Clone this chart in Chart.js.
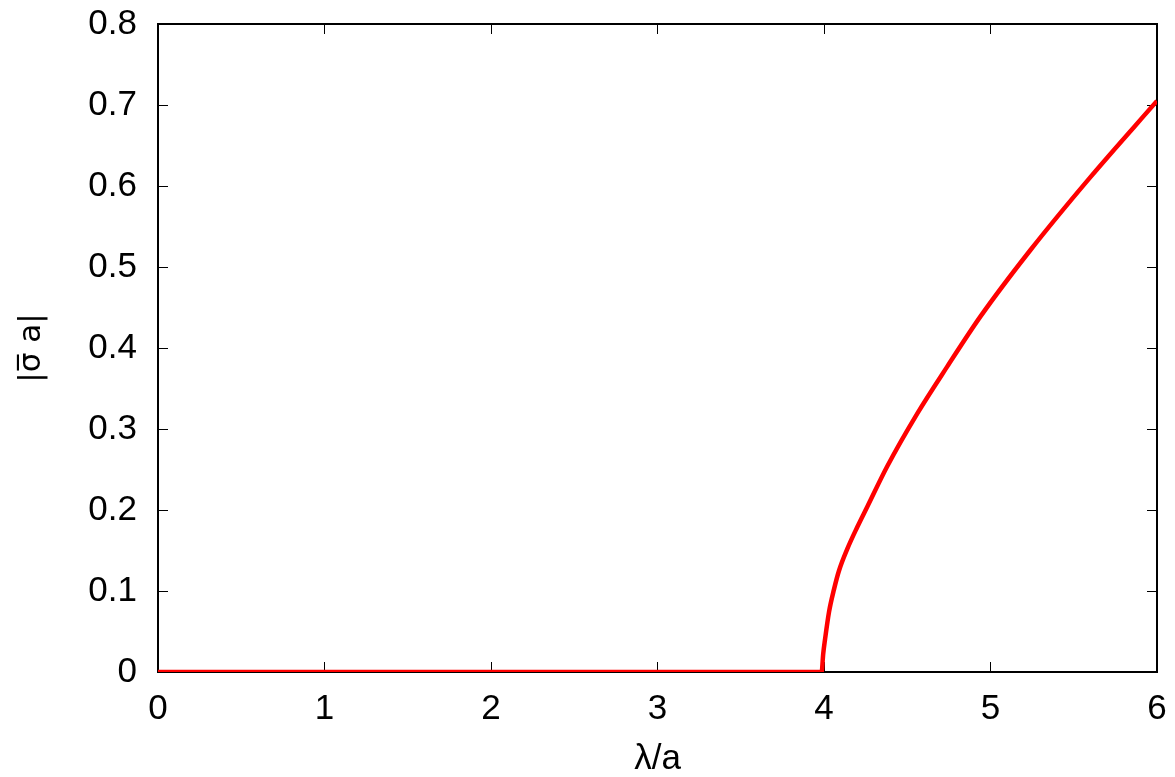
<!DOCTYPE html>
<html>
<head>
<meta charset="utf-8">
<script src="https://cdn.jsdelivr.net/npm/chart.js@4/dist/chart.umd.min.js"></script>
<style>
  html, body { margin: 0; padding: 0; background: #fff; }
  #wrap { width: 1175px; height: 777px; }
</style>
</head>
<body>
<div id="wrap"><canvas id="jsChart" width="1175" height="777"></canvas></div>
<script>
// values
const lambdaA = [0, 3.986, 3.995, 4.006, 4.03, 4.06, 4.09, 4.14, 4.2, 4.26, 4.38, 4.56, 4.74, 4.94, 5.24, 5.6, 6.0]
const sigmaA  = [0, 0,     0.022, 0.04,  0.074, 0.102, 0.125, 0.152, 0.179, 0.204, 0.254, 0.319, 0.377, 0.439, 0.521, 0.611, 0.705]

const xTicks = [0, 1, 2, 3, 4, 5, 6]
const yTicks = [0, 0.1, 0.2, 0.3, 0.4, 0.5, 0.6, 0.7, 0.8]

const FONT = 'Liberation Sans, Arial, Helvetica, sans-serif'

function initChart() {

    let element = document.getElementById('jsChart')
    let points = lambdaA.map((x, i) => ({ x: x, y: sigmaA[i] }))

    // shared look of the frame: inward ticks, black border
    let frameGrid = {
        drawOnChartArea: false,
        drawTicks: true,
        tickLength: -10,
        color: '#000',
        lineWidth: 1
    }
    let frameBorder = { display: true, color: '#000', width: 2 }

    // no label overhang padding, the frame sits where the layout puts it
    let noPad = s => { s.paddingLeft = 0; s.paddingRight = 0; s.paddingTop = 0; s.paddingBottom = 0 }

    new Chart(element, {
        type: 'scatter',
        data: {
            datasets: [{
                data: points,
                showLine: true,
                borderColor: '#ff0000',
                borderWidth: 4.5,
                pointRadius: 0,
                cubicInterpolationMode: 'monotone'
            }]
        },
        options: {
            responsive: false,
            animation: false,
            layout: { padding: { left: 0, top: 24, right: 18, bottom: 0 } },
            plugins: {
                legend: { display: false },
                tooltip: { enabled: false }
            },
            scales: {
                x: {
                    type: 'linear',
                    position: 'bottom',
                    min: 0,
                    max: 6,
                    z: 1,
                    afterBuildTicks: s => { s.ticks = xTicks.map(v => ({ value: v })) },
                    afterFit: s => { s.height = 105; noPad(s) },
                    grid: frameGrid,
                    border: frameBorder,
                    ticks: {
                        color: '#000',
                        padding: 26,
                        maxRotation: 0,
                        font: { family: FONT, size: 35 }
                    },
                    title: {
                        display: true,
                        text: 'λ/a',
                        color: '#000',
                        padding: 0,
                        font: { family: FONT, size: 35, lineHeight: 1 }
                    }
                },
                x2: {
                    type: 'linear',
                    position: 'top',
                    min: 0,
                    max: 6,
                    z: 1,
                    afterBuildTicks: s => { s.ticks = xTicks.map(v => ({ value: v })) },
                    afterFit: s => { s.height = 0; noPad(s) },
                    grid: frameGrid,
                    border: frameBorder,
                    ticks: { display: false }
                },
                y: {
                    type: 'linear',
                    position: 'left',
                    min: 0,
                    max: 0.8,
                    z: 1,
                    afterBuildTicks: s => { s.ticks = yTicks.map(v => ({ value: v })) },
                    afterFit: s => { s.width = 158; noPad(s) },
                    grid: frameGrid,
                    border: frameBorder,
                    ticks: {
                        color: '#000',
                        padding: 31,
                        font: { family: FONT, size: 35 },
                        callback: v => String(Math.round(v * 10) / 10)
                    },
                    title: {
                        display: true,
                        text: '|σ\u0305 a|',
                        color: '#000',
                        padding: { top: 16, bottom: 0 },
                        font: { family: '"DejaVu Sans", sans-serif', size: 31, lineHeight: 1 }
                    }
                },
                y2: {
                    type: 'linear',
                    position: 'right',
                    min: 0,
                    max: 0.8,
                    z: 1,
                    afterBuildTicks: s => { s.ticks = yTicks.map(v => ({ value: v })) },
                    afterFit: s => { s.width = 0; noPad(s) },
                    grid: frameGrid,
                    border: frameBorder,
                    ticks: { display: false }
                }
            }
        }
    })

    return true
}

initChart()
</script>
</body>
</html>
